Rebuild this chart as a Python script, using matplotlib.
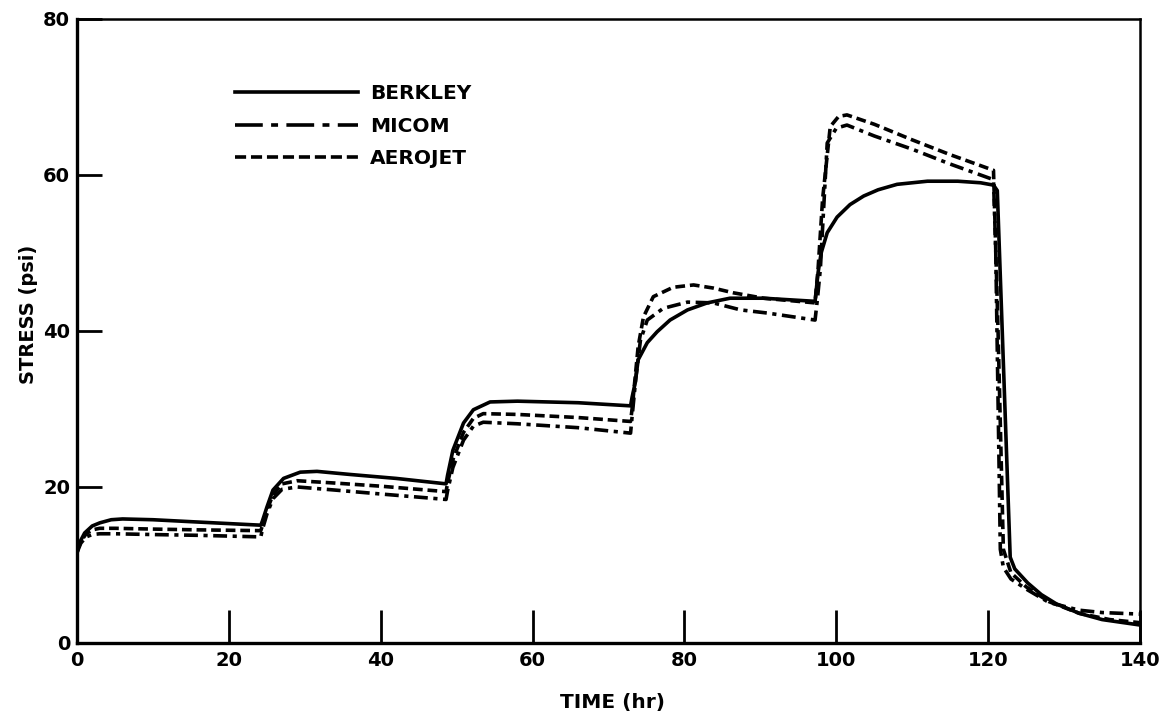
import matplotlib
matplotlib.use("Agg")
import matplotlib.pyplot as plt
from matplotlib.lines import Line2D

plt.rcParams['font.family'] = ['DejaVu Sans']
plt.rcParams['font.weight'] = 'bold'
plt.rcParams['lines.scale_dashes'] = False

# Data (time in hr, stress in psi)
berkley_t = [0, 0.3, 1, 2, 3, 4.5, 6, 10, 16, 24.2,
             24.4, 25, 25.8, 27.2, 29.4, 31.6, 36, 42, 48.6,
             48.8, 49.5, 50.9, 52.2, 54.4, 58, 66, 72.9,
             73.1, 73.5, 73.9, 75.1, 76.4, 78.1, 80.4, 83, 86, 90.4, 97.2,
             97.6, 98.0, 98.8, 100.1, 101.8, 103.6, 105.5, 108, 112, 116, 119, 120.7,
             121.2, 122.9, 123.5, 125.2, 127, 129, 132, 135, 140]
berkley_s = [11.5, 12.8, 14.1, 15.0, 15.4, 15.8, 15.9, 15.8, 15.5, 15.1,
             15.6, 17.4, 19.6, 21.1, 21.9, 22.0, 21.6, 21.1, 20.4,
             21.5, 24.7, 28.2, 29.9, 30.9, 31.0, 30.8, 30.4,
             31.5, 33.3, 36.3, 38.5, 39.9, 41.4, 42.7, 43.6, 44.2, 44.2, 43.8,
             47.5, 50.0, 52.6, 54.6, 56.2, 57.3, 58.1, 58.8, 59.2, 59.2, 59.0, 58.7,
             58.0, 11.0, 9.5, 7.7, 6.2, 5.0, 3.8, 3.0, 2.3]

micom_t = [0, 0.5, 1.2, 2, 3, 5, 10, 16, 24.2,
           24.4, 25, 25.8, 27, 29, 34, 40, 48.6,
           48.8, 49.5, 50.9, 52.2, 53.5, 58, 66, 72.9,
           73.1, 73.6, 74.2, 75.1, 77.2, 80.4, 83.8, 87.4, 90.9, 97.2,
           97.5, 97.9, 98.8, 100.0, 101.4, 105, 110, 115, 120.7,
           121.0, 121.6, 122.0, 123, 125.2, 128, 132, 135, 140]
micom_s = [11.6, 12.8, 13.6, 13.9, 14.0, 14.0, 13.9, 13.8, 13.6,
           14.5, 16.5, 18.5, 19.7, 20.0, 19.6, 19.1, 18.4,
           19.5, 22.5, 26.0, 27.8, 28.3, 28.1, 27.6, 26.9,
           29.0, 34.0, 38.8, 41.4, 42.9, 43.7, 43.6, 42.7, 42.3, 41.4,
           44.0, 48.0, 64.1, 66.0, 66.4, 65.0, 63.3, 61.4, 59.4,
           50.0, 12.0, 9.7, 8.2, 6.8, 5.2, 4.2, 3.9, 3.7]

aerojet_t = [0, 0.5, 1.2, 2, 3, 5, 10, 16, 24.2,
             24.4, 25, 25.8, 27, 29, 34, 40, 48.6,
             48.8, 49.5, 50.9, 52.2, 53.5, 58, 66, 72.9,
             73.1, 73.9, 74.6, 75.9, 78.5, 81.2, 83.8, 86.4, 90.4, 97.2,
             97.6, 98.2, 99.2, 100.3, 101.4, 105, 110, 115, 120.7,
             121.3, 122, 123, 125, 128, 132, 136, 140]
aerojet_s = [11.8, 13.0, 14.0, 14.5, 14.7, 14.7, 14.6, 14.5, 14.4,
             15.0, 17.0, 19.0, 20.4, 20.8, 20.5, 20.1, 19.4,
             20.5, 23.5, 27.0, 28.8, 29.4, 29.3, 28.9, 28.4,
             30.0, 38.0, 41.8, 44.4, 45.6, 45.9, 45.5, 44.9, 44.2, 43.6,
             48.0, 57.0, 66.2, 67.5, 67.7, 66.5, 64.5, 62.6, 60.6,
             40.0, 12.0, 9.0, 7.2, 5.3, 3.8, 3.0, 2.6]

x_ticks = [0, 20, 40, 60, 80, 100, 120, 140]
y_ticks = [0, 20, 40, 60, 80]

fig = plt.figure(figsize=(11.62, 7.16), dpi=100)
ax = fig.add_axes([0.0663, 0.102, 0.9148, 0.8715])

lw = 2.6
ax.plot(berkley_t, berkley_s, color='black', lw=lw, solid_capstyle='butt')
ax.plot(micom_t, micom_s, color='black', lw=lw, dashes=(10, 4, 3, 4))
ax.plot(aerojet_t, aerojet_s, color='black', lw=lw, dashes=(7, 3.5))

ax.set_xlim(0, 140)
ax.set_ylim(0, 80)
ax.set_xticks(x_ticks)
ax.set_yticks(y_ticks)
ax.tick_params(axis='x', direction='in', length=24, width=2, pad=6, labelsize=14)
ax.tick_params(axis='y', direction='in', length=18, width=2, pad=5, labelsize=14)

for side in ['left', 'bottom']:
    ax.spines[side].set_linewidth(2.4)
for side in ['top', 'right']:
    ax.spines[side].set_linewidth(1.8)

ax.set_xlabel('TIME (hr)', fontsize=14.5, fontweight='bold', va='center')
ax.xaxis.set_label_coords(0.504, -0.095)
ax.set_ylabel('STRESS (psi)', fontsize=14, fontweight='bold', va='center')
ax.yaxis.set_label_coords(-0.046, 0.526)

# legend with longer dashes like the original key
handles = [
    Line2D([], [], color='black', lw=lw),
    Line2D([], [], color='black', lw=lw, dashes=(20, 6, 5, 6)),
    Line2D([], [], color='black', lw=lw, dashes=(8, 3.5)),
]
ax.legend(handles, ['BERKLEY', 'MICOM', 'AEROJET'], loc='upper left',
          bbox_to_anchor=(0.149, 0.895), frameon=False, borderpad=0,
          borderaxespad=0, handlelength=6.1, handletextpad=0.6,
          labelspacing=0.65, prop={'weight': 'bold', 'size': 14.5})

fig.savefig('out.png', dpi=100, facecolor='white')
